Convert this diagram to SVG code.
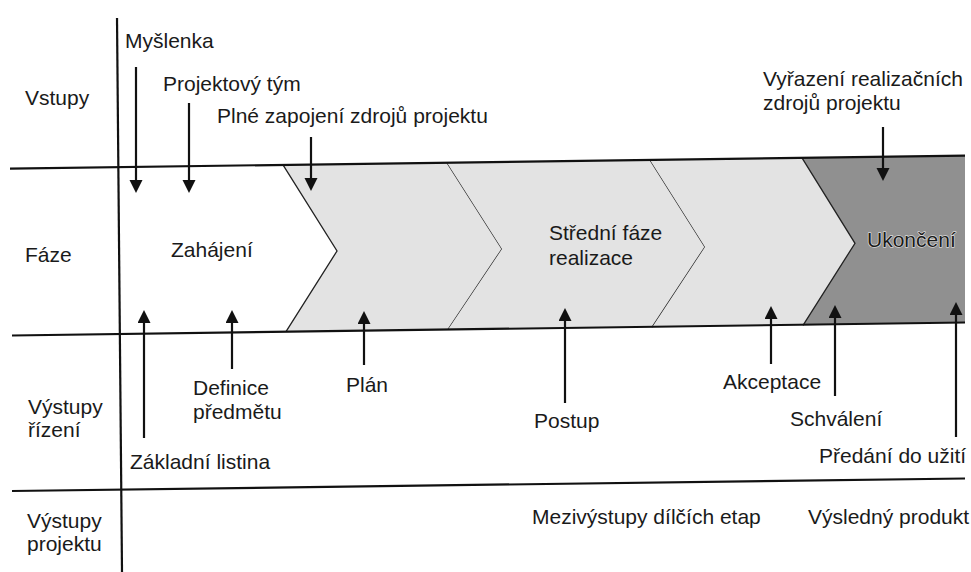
<svg xmlns="http://www.w3.org/2000/svg" width="971" height="572" viewBox="0 0 971 572">
  <defs>
    <style>
      text { font-family: "Liberation Sans", Arial, sans-serif; font-size: 21px; fill: #1a1a1a; }
      .rule { stroke: #111; stroke-width: 2.2; fill: none; }
      .edge { stroke: #222; stroke-width: 1.3; fill: none; }
      .arrow { stroke: #111; stroke-width: 2.2; fill: none; marker-end: url(#head); }
      .halo { fill: #1a1a1a; stroke: #d9d9d9; stroke-width: 1.4; paint-order: stroke; stroke-linejoin: round; }
    </style>
    <marker id="head" markerUnits="userSpaceOnUse" markerWidth="14" markerHeight="14" refX="9" refY="6.5" orient="auto">
      <path d="M0,0 L13,6.5 L0,13 z" fill="#111"/>
    </marker>
  </defs>

  <rect width="971" height="572" fill="#ffffff"/>

  <!-- phase band -->
  <g id="phases">
    <g id="phase-zahajeni">
      <text x="171" y="257">Zahájení</text>
    </g>
    <g id="phase-plan">
      <polygon points="283,164.9 447,162.7 502,249 448,329.5 286,331.7 337,251" fill="#e3e3e3"/>
      <polyline class="edge" points="283,164.9 337,251 286,331.7"/>
      <polyline class="edge" points="447,162.7 502,249 448,329.5"/>
    </g>
    <g id="phase-stredni">
      <polygon points="447,162.7 650,159.9 705,247 652,327.4 448,329.5 502,249" fill="#e3e3e3"/>
      <polyline class="edge" points="650,159.9 705,247 652,327.4"/>
      <text x="549" y="240">Střední fáze</text>
      <text x="549" y="265">realizace</text>
    </g>
    <g id="phase-akceptace">
      <polygon points="650,159.9 802,157.8 855,243.3 803,325.3 652,327.4 705,247" fill="#e3e3e3"/>
    </g>
    <g id="phase-ukonceni">
      <polygon points="802,157.8 965,155.6 965,322.5 803,325.3 855,243.3" fill="#909090"/>
      <polyline class="edge" points="802,157.8 855,243.3 803,325.3"/>
      <text class="halo" x="867" y="247">Ukončení</text>
    </g>
  </g>

  <!-- grid rules -->
  <g id="rules">
    <line class="rule" x1="10" y1="168.6" x2="965" y2="155.6"/>
    <line class="rule" x1="12" y1="335.5" x2="965" y2="322.5"/>
    <line class="rule" x1="12" y1="491" x2="965" y2="478.5"/>
    <line class="rule" x1="117" y1="18" x2="122" y2="572"/>
  </g>

  <!-- row headings -->
  <g id="row-vstupy"><text x="25" y="105">Vstupy</text></g>
  <g id="row-faze"><text x="25" y="262">Fáze</text></g>
  <g id="row-rizeni"><text x="28" y="414">Výstupy</text><text x="28" y="437">řízení</text></g>
  <g id="row-projektu"><text x="27" y="528">Výstupy</text><text x="27" y="551">projektu</text></g>

  <!-- inputs -->
  <g id="in-myslenka"><text x="125" y="48">Myšlenka</text></g>
  <g id="in-tym"><text x="163" y="91">Projektový tým</text></g>
  <g id="in-zdroje"><text x="217" y="123">Plné zapojení zdrojů projektu</text></g>
  <g id="in-vyrazeni"><text x="763" y="86">Vyřazení realizačních</text><text x="763" y="110">zdrojů projektu</text></g>

  <!-- management outputs -->
  <g id="out-listina"><text x="130" y="469">Základní listina</text></g>
  <g id="out-definice"><text x="193" y="395">Definice</text><text x="193" y="419">předmětu</text></g>
  <g id="out-plan"><text x="346" y="392">Plán</text></g>
  <g id="out-postup"><text x="534" y="428">Postup</text></g>
  <g id="out-akceptace"><text x="723" y="389">Akceptace</text></g>
  <g id="out-schvaleni"><text x="790" y="426">Schválení</text></g>
  <g id="out-predani"><text x="819" y="463">Předání do užití</text></g>

  <!-- project outputs -->
  <g id="prod-mezivystupy"><text x="532" y="524">Mezivýstupy dílčích etap</text></g>
  <g id="prod-vysledny"><text x="808" y="524">Výsledný produkt</text></g>

  <!-- connectors -->
  <g id="connectors">
    <line class="arrow" x1="136" y1="67" x2="136" y2="189"/>
    <line class="arrow" x1="189" y1="103" x2="189" y2="189"/>
    <line class="arrow" x1="311" y1="137" x2="311" y2="187"/>
    <line class="arrow" x1="883" y1="127" x2="883" y2="177"/>

    <line class="arrow" x1="144" y1="438" x2="144" y2="314"/>
    <line class="arrow" x1="232" y1="369" x2="232" y2="314"/>
    <line class="arrow" x1="364" y1="365" x2="364" y2="315"/>
    <line class="arrow" x1="565" y1="403" x2="565" y2="312"/>
    <line class="arrow" x1="771" y1="364" x2="771" y2="310"/>
    <line class="arrow" x1="835" y1="396" x2="835" y2="309"/>
    <line class="arrow" x1="956" y1="437" x2="956" y2="306"/>
  </g>
</svg>
